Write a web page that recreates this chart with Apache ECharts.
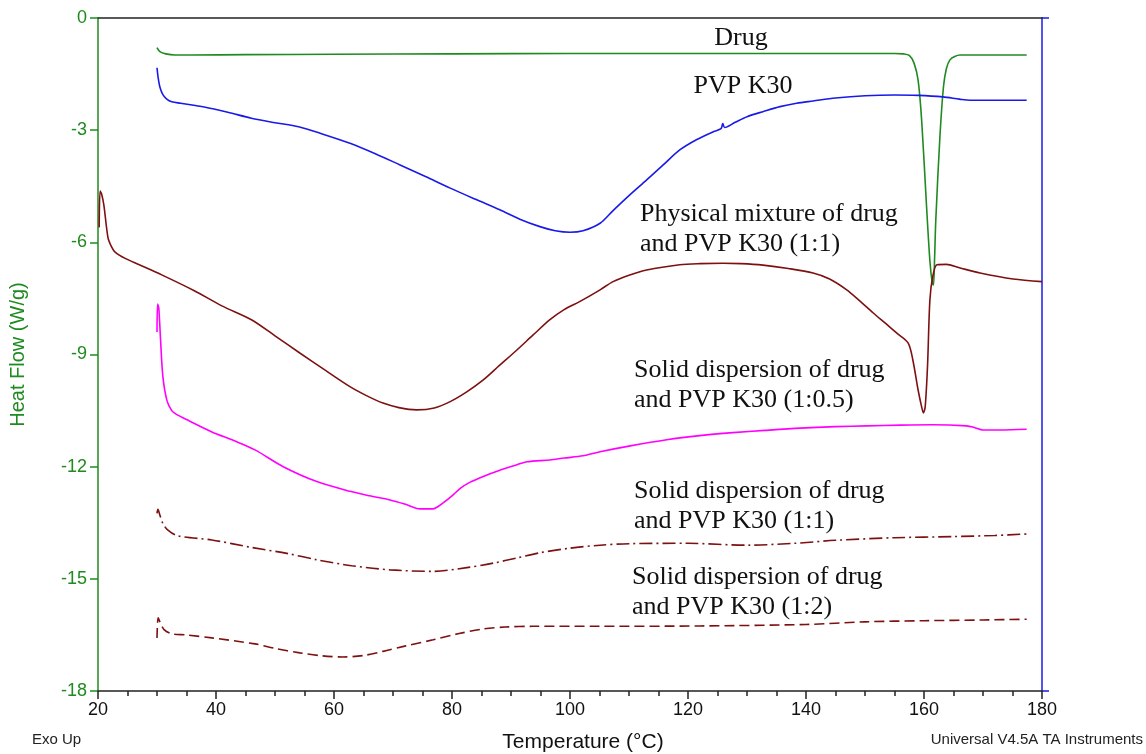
<!DOCTYPE html>
<html>
<head>
<meta charset="utf-8">
<title>DSC thermograms</title>
<script src="https://cdn.jsdelivr.net/npm/echarts@6/dist/echarts.min.js"></script>
<style>
  html, body { margin: 0; padding: 0; background: #fff; }
  #chart { width: 1146px; height: 754px; }
</style>
</head>
<body>
<div id="chart"></div>
<script>
// Temperature (°C) and heat flow (W/g) for each thermogram
const drugT = [30.0, 30.5, 31.5, 33, 36, 45, 60, 80, 100, 120, 140, 150, 155, 156.5, 157.5, 158.3, 159, 159.6, 160.4, 161.0, 161.4, 161.6, 161.8, 162.0, 162.7, 163.3, 163.8, 164.4, 165.2, 166.1, 170, 177.4];
const drugH = [-0.79, -0.9, -0.96, -0.99, -0.99, -0.98, -0.97, -0.96, -0.95, -0.95, -0.95, -0.95, -0.95, -0.96, -1.0, -1.2, -1.66, -2.73, -4.95, -6.5, -7.09, -7.14, -6.4, -5.4, -3.17, -1.84, -1.35, -1.12, -1.03, -0.99, -0.99, -0.99];

const pvpT = [30.0, 30.2, 30.5, 31, 31.6, 32.5, 34, 38, 42, 46, 50, 54, 58, 62.7, 67, 71.2, 75.5, 79.7, 84, 88.1, 91.5, 94.9, 97.5, 100, 102.2, 105.1, 107.3, 110, 113, 115.8, 118.6, 121.5, 124.3, 125.6, 125.9, 126.2, 128, 130, 132.8, 135.6, 138.4, 141.2, 145, 150, 155, 159, 163.2, 166, 167.8, 177.4];
const pvpH = [-1.33, -1.6, -1.85, -2.05, -2.16, -2.24, -2.28, -2.38, -2.52, -2.68, -2.8, -2.91, -3.1, -3.35, -3.63, -3.93, -4.24, -4.55, -4.85, -5.13, -5.38, -5.58, -5.69, -5.73, -5.69, -5.49, -5.15, -4.75, -4.33, -3.93, -3.53, -3.25, -3.04, -2.96, -2.82, -2.93, -2.79, -2.64, -2.5, -2.37, -2.28, -2.22, -2.14, -2.08, -2.06, -2.07, -2.11, -2.17, -2.2, -2.2];

const physT = [20.2, 20.35, 20.6, 21, 21.7, 22.3, 22.9, 24.6, 27, 30.8, 36.4, 41, 46, 50, 54.2, 58.5, 62.7, 65.5, 68.3, 71, 74, 77, 79.7, 82.5, 85.3, 88, 91, 93.8, 96.6, 99, 101.7, 105.1, 107.3, 110, 113, 118.6, 122, 125.9, 129, 132.7, 137, 141.2, 144, 146.9, 149, 151.4, 153.5, 155.4, 157.3, 158.1, 159, 159.6, 159.9, 160.2, 160.6, 161, 161.5, 162.2, 163.8, 166, 169.5, 175.1, 180];
const physH = [-5.6, -4.63, -4.7, -5.01, -5.88, -6.12, -6.26, -6.43, -6.6, -6.87, -7.3, -7.7, -8.07, -8.5, -8.96, -9.42, -9.86, -10.1, -10.3, -10.42, -10.48, -10.43, -10.26, -10.0, -9.68, -9.3, -8.88, -8.47, -8.07, -7.8, -7.58, -7.27, -7.05, -6.88, -6.74, -6.6, -6.57, -6.56, -6.57, -6.61, -6.7, -6.82, -6.98, -7.27, -7.55, -7.89, -8.17, -8.43, -8.69, -9.14, -9.95, -10.4, -10.56, -10.4, -9.3, -7.54, -6.9, -6.6, -6.59, -6.68, -6.82, -6.98, -7.05];

const sd05T = [30.0, 30.1, 30.3, 30.6, 31.0, 31.7, 32.5, 33.1, 35, 39.3, 43, 46.6, 51.4, 57.1, 62.7, 66, 69.5, 72, 74.6, 76.8, 77.7, 78.5, 80, 81.4, 83, 85.3, 88, 91, 92.7, 96.6, 99, 102.2, 105.1, 110, 116.4, 122, 127.6, 133, 139, 145, 150.3, 156, 161.5, 167.2, 168.5, 170, 172.9, 177.4];
const sd05H = [-8.4, -7.65, -7.75, -8.6, -9.6, -10.24, -10.5, -10.58, -10.74, -11.07, -11.3, -11.55, -12.0, -12.4, -12.66, -12.78, -12.89, -13.0, -13.13, -13.13, -13.06, -12.97, -12.78, -12.58, -12.42, -12.26, -12.1, -11.95, -11.87, -11.82, -11.77, -11.71, -11.6, -11.45, -11.28, -11.17, -11.09, -11.03, -10.97, -10.93, -10.91, -10.89, -10.88, -10.91, -10.95, -11.02, -11.02, -11.0];

const sd1T = [30.0, 30.15, 30.5, 31.0, 31.8, 33.5, 39.3, 46, 52, 57.1, 63, 69.5, 76.8, 82.5, 87, 91, 95, 100, 105.1, 110, 120, 130, 138, 145, 155, 165, 172, 177.4];
const sd1H = [-13.25, -13.14, -13.3, -13.52, -13.69, -13.85, -13.96, -14.16, -14.32, -14.49, -14.65, -14.76, -14.8, -14.7, -14.58, -14.44, -14.3, -14.18, -14.1, -14.06, -14.05, -14.1, -14.05, -13.97, -13.9, -13.87, -13.84, -13.8];

const sd2T = [30.0, 30.2, 30.5, 31.2, 32.5, 35, 39.3, 46.6, 50, 54.2, 58, 61.5, 65, 68.3, 72, 76.8, 81, 85.3, 89, 93.7, 105, 122, 140, 150, 160, 170, 177.4];
const sd2H = [-16.58, -16.04, -16.15, -16.36, -16.47, -16.5, -16.58, -16.74, -16.86, -16.98, -17.06, -17.09, -17.05, -16.94, -16.8, -16.63, -16.47, -16.34, -16.29, -16.27, -16.27, -16.26, -16.22, -16.15, -16.12, -16.1, -16.08];

// Axis ranges and tick steps
const xRange = [20, 180];
const xStep = 20;
const yRange = [-18, 0];
const yStep = 3;

const pairs = (t, h) => t.map((v, i) => [v, h[i]]);

const GREEN = '#1f8a1f';
const BLUE = '#1a1ae8';
const MAROON = '#7d1010';
const MAGENTA = '#ff00ff';
const SERIF = '"Liberation Serif", "Times New Roman", serif';
const SANS = '"Liberation Sans", Arial, sans-serif';

function curve(name, data, color, type) {
  return {
    name: name,
    type: 'line',
    data: data,
    showSymbol: false,
    smooth: 0.3,
    animation: false,
    lineStyle: { color: color, width: 1.6, type: type || 'solid' },
    z: 3
  };
}

const chart = echarts.init(document.getElementById('chart'), null, { renderer: 'canvas' });

chart.setOption({
  backgroundColor: '#ffffff',
  animation: false,
  grid: { left: 98, right: 104, top: 18, bottom: 63, containLabel: false, outerBoundsMode: 'none' },
  xAxis: [
    {
      type: 'value', position: 'bottom',
      min: xRange[0], max: xRange[1], interval: xStep,
      name: 'Temperature (°C)', nameLocation: 'middle', nameGap: 41,
      nameTextStyle: { color: '#111', fontSize: 21, fontFamily: SANS, padding: [0, 0, 0, 26] },
      axisLine: { show: true, onZero: false, lineStyle: { color: '#222', width: 1.5 } },
      axisTick: { show: true, inside: false, length: 8, lineStyle: { color: '#222', width: 1.5 } },
      minorTick: { show: true, splitNumber: 4, length: 5, lineStyle: { color: '#222', width: 1.5 } },
      axisLabel: { color: '#111', fontSize: 18, fontFamily: SANS, margin: 10 },
      splitLine: { show: false }
    },
    {
      type: 'value', position: 'top',
      min: xRange[0], max: xRange[1],
      axisLine: { show: true, onZero: false, lineStyle: { color: '#222', width: 1.5 } },
      axisTick: { show: false }, axisLabel: { show: false }, splitLine: { show: false }
    }
  ],
  yAxis: [
    {
      type: 'value', position: 'left',
      min: yRange[0], max: yRange[1], interval: yStep,
      name: 'Heat Flow (W/g)', nameLocation: 'middle', nameGap: 70,
      nameTextStyle: { color: GREEN, fontSize: 20, fontFamily: SANS },
      axisLine: { show: true, onZero: false, lineStyle: { color: GREEN, width: 1.5 } },
      axisTick: { show: true, inside: false, length: 8, lineStyle: { color: GREEN, width: 1.5 } },
      axisLabel: { color: GREEN, fontSize: 18, fontFamily: SANS, margin: 11 },
      splitLine: { show: false }
    },
    {
      type: 'value', position: 'right',
      min: yRange[0], max: yRange[1], interval: yRange[1] - yRange[0],
      axisLine: { show: true, onZero: false, lineStyle: { color: BLUE, width: 1.5 } },
      axisTick: { show: true, inside: false, length: 7, lineStyle: { color: BLUE, width: 1.5 } },
      axisLabel: { show: false }, splitLine: { show: false }
    }
  ],
  series: [
    curve('Drug', pairs(drugT, drugH), GREEN),
    curve('PVP K30', pairs(pvpT, pvpH), BLUE),
    curve('Physical mixture (1:1)', pairs(physT, physH), MAROON),
    curve('Solid dispersion (1:0.5)', pairs(sd05T, sd05H), MAGENTA),
    curve('Solid dispersion (1:1)', pairs(sd1T, sd1H), MAROON, [13, 4, 2, 4]),
    curve('Solid dispersion (1:2)', pairs(sd2T, sd2H), MAROON, [10, 5])
  ],
  graphic: [
    { type: 'text', x: 741, y: 38, style: { text: 'Drug', font: '26px ' + SERIF, fill: '#111', align: 'center', verticalAlign: 'middle' } },
    { type: 'text', x: 743, y: 86, style: { text: 'PVP K30', font: '26px ' + SERIF, fill: '#111', align: 'center', verticalAlign: 'middle' } },
    { type: 'text', x: 640, y: 229, style: { text: 'Physical mixture of drug\nand PVP K30 (1:1)', font: '26px ' + SERIF, lineHeight: 30, fill: '#111', align: 'left', verticalAlign: 'middle' } },
    { type: 'text', x: 634, y: 385, style: { text: 'Solid dispersion of drug\nand PVP K30 (1:0.5)', font: '26px ' + SERIF, lineHeight: 30, fill: '#111', align: 'left', verticalAlign: 'middle' } },
    { type: 'text', x: 634, y: 506, style: { text: 'Solid dispersion of drug\nand PVP K30 (1:1)', font: '26px ' + SERIF, lineHeight: 30, fill: '#111', align: 'left', verticalAlign: 'middle' } },
    { type: 'text', x: 632, y: 592, style: { text: 'Solid dispersion of drug\nand PVP K30 (1:2)', font: '26px ' + SERIF, lineHeight: 30, fill: '#111', align: 'left', verticalAlign: 'middle' } },
    { type: 'text', x: 32, y: 740, style: { text: 'Exo Up', font: '15px ' + SANS, fill: '#222', align: 'left', verticalAlign: 'middle' } },
    { type: 'text', x: 1143, y: 740, style: { text: 'Universal V4.5A TA Instruments', font: '15px ' + SANS, fill: '#222', align: 'right', verticalAlign: 'middle' } }
  ]
});
</script>
</body>
</html>
